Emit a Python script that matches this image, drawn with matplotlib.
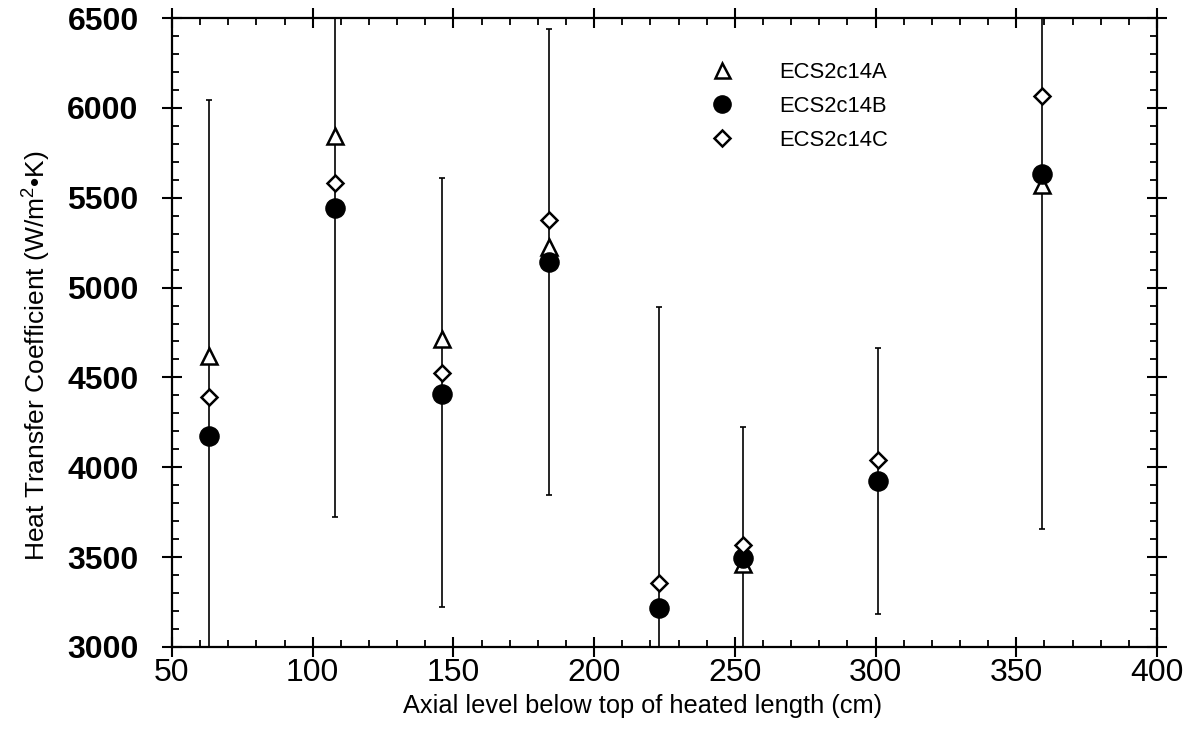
import matplotlib
matplotlib.use('Agg')
import matplotlib.pyplot as plt
from matplotlib.ticker import MultipleLocator
import numpy as np

# axial level (cm)
axial = [63, 108, 146, 184, 223, 253, 301, 359]
# heat transfer coefficient (W/m2K) per test
ecsA = [4620, 5845, 4715, 5225, np.nan, 3460, np.nan, 5570]
ecsB = [4175, 5445, 4410, 5140, 3215, 3495, 3925, 5630]
ecsC = [4390, 5580, 4525, 5375, 3355, 3565, 4040, 6065]
# error bar ends
err_lo = [2800, 3725, 3220, 3845, 2800, 2800, 3185, 3655]
err_hi = [6045, 6800, 5610, 6440, 4890, 4225, 4665, 6800]

plt.rcParams['font.family'] = ['Liberation Sans', 'DejaVu Sans']
plt.rcParams['mathtext.fontset'] = 'custom'
plt.rcParams['mathtext.rm'] = 'Liberation Sans'

fig = plt.figure(figsize=(11.86, 7.44), dpi=100)
ax = fig.add_axes([0.145, 0.1304, 0.8305, 0.8454])

x = np.array(axial)
lo = np.array(err_lo)
hi = np.array(err_hi)
mid = np.array(ecsB)
ax.errorbar(x, mid, yerr=[mid - lo, hi - mid], fmt='none', ecolor='black',
            elinewidth=1.2, capsize=2, capthick=1.2, zorder=1)

ax.plot(x, ecsA, linestyle='none', marker='^', markersize=12, markerfacecolor='white',
        markeredgecolor='black', markeredgewidth=1.8, label='ECS2c14A', zorder=2)
ax.plot(x, ecsB, linestyle='none', marker='o', markersize=13.8, color='black',
        label='ECS2c14B', zorder=3)
ax.plot(x, ecsC, linestyle='none', marker='D', markersize=8.5, markerfacecolor='white',
        markeredgecolor='black', markeredgewidth=1.8, label='ECS2c14C', zorder=4)

ax.set_xlim(50, 400)
ax.set_ylim(3000, 6500)
ax.xaxis.set_major_locator(MultipleLocator(50))
ax.xaxis.set_minor_locator(MultipleLocator(10))
ax.yaxis.set_major_locator(MultipleLocator(500))
ax.yaxis.set_minor_locator(MultipleLocator(100))
ax.tick_params(which='major', direction='inout', length=14, width=1.5,
               top=True, right=True)
ax.tick_params(axis='y', which='major', pad=17)
ax.tick_params(axis='x', which='major', pad=1)
ax.tick_params(which='minor', direction='in', length=5, width=1.3, top=True, right=True)
for s in ax.spines.values():
    s.set_linewidth(1.6)

for lab in ax.get_yticklabels():
    lab.set_fontsize(23)
    lab.set_fontweight('bold')
for lab in ax.get_xticklabels():
    lab.set_fontsize(23)

ax.set_xlabel('Axial level below top of heated length (cm)', fontsize=18.3)
ax.xaxis.set_label_coords(0.478, -0.074)
ax.set_ylabel('Heat Transfer Coefficient (W/m$^2$\u2022K)', fontsize=19)
ax.yaxis.set_label_coords(-0.122, 0.464)

ax.legend(loc='upper left', bbox_to_anchor=(0.516, 0.962), frameon=False, fontsize=15.8,
          handletextpad=1.6, labelspacing=0.6, markerscale=0.9)

fig.savefig('out.png', dpi=100)
